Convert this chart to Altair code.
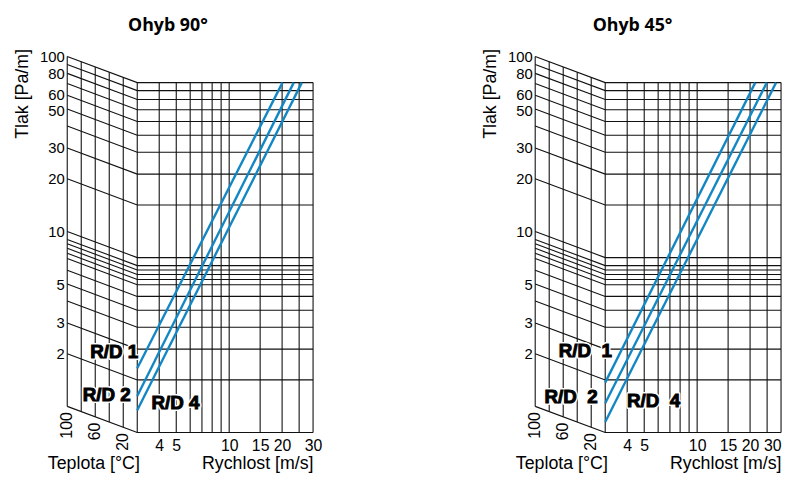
import altair as alt
import pandas as pd

# ---------------- data ----------------
pressure_grid = [1, 2, 3, 4, 5, 6, 7, 7.5, 8, 8.5, 9, 10, 20, 30, 40, 50, 60, 70, 80, 90, 100]
pressure_labels = [2, 3, 5, 10, 20, 30, 50, 60, 80, 100]
velocity_grid = [3, 4, 5, 6, 7, 8, 9, 10, 15, 20, 25, 30]
velocity_labels = [4, 5, 10, 15, 20, 30]
temperature_grid = [0, 20, 40, 60, 80, 100]
temperature_labels = [100, 60, 20]

series = ["R/D 1", "R/D 2", "R/D 4"]
# Ohyb 90°: pressure at 3 m/s and velocity where the line reaches 100 Pa/m
p_at_3_90 = [2.33, 1.62, 1.34]
v_at_100_90 = [20.1, 23.3, 25.9]
# Ohyb 45°
p_at_3_45 = [1.93, 1.47, 1.15]
v_at_100_45 = [21.4, 24.9, 28.1]

# label anchor points (velocity, pressure) for the series names
label_v_90 = [2.22, 2.01, 4.95]
label_p_90 = [2.87, 1.64, 1.48]
label_v_45 = [2.31, 1.92, 5.65]
label_p_45 = [2.93, 1.60, 1.52]
label_text_90 = ["R/D 1", "R/D 2", "R/D 4"]
label_text_45 = ["R/D\u00a0\u00a01", "R/D\u00a0\u00a02", "R/D\u00a0\u00a04"]

# ---------------- nomogram geometry ----------------
V0 = 3.0                 # velocity at the start of the grid
SKEW = 26.5 / 177        # decades of pressure the skewed part drops over 100 °C
K = 10 ** SKEW
T_SPAN = 71 / 178.3      # decades of x-width taken by 0..100 °C
X_MIN = V0 * 10 ** (-T_SPAN)
Y_MAX = 100 * K
W, H = 249, 381

LINE = "#111111"
BLUE = "#1287c4"
FONT = "Liberation Sans"


def tx(t):
    return V0 * 10 ** (-T_SPAN * t / 100)


def tk(t):
    return K ** (t / 100)


xs = alt.Scale(type="log", domain=[X_MIN, 30], nice=False, zero=False)
ys = alt.Scale(type="log", domain=[1, Y_MAX], nice=False, zero=False)

axis_style = dict(domain=False, ticks=False, tickSize=0, grid=False,
                  labelOverlap=False, labelFont=FONT, labelColor="black",
                  titleFont=FONT, titleFontSize=18, titleFontWeight="normal",
                  titleColor="black")


def x_axis(flush):
    return alt.Axis(values=velocity_labels, format="d", title="Rychlost [m/s]",
                    titleAnchor="end", labelPadding=5, titlePadding=1, labelFontSize=16,
                    labelFlush=flush, **axis_style)


label_of = f"round(datum.value / {K})"
ax_y = alt.Axis(values=[p * K for p in pressure_labels],
                labelExpr=f"'' + {label_of}",
                labelOffset={"condition": [{"test": f"{label_of} == 60", "value": -1},
                                           {"test": f"{label_of} == 50", "value": 1}],
                             "value": 0},
                title="Tlak [Pa/m]", titleY=37.5, titleAlign="center", labelFlush=False,
                labelPadding=3, titlePadding=8, labelFontSize=15, **axis_style)


def panel(title, p3, v100, lv, lp, ltext, flush):
    ax_x = x_axis(flush)

    def X():
        return alt.X("x:Q", scale=xs, axis=ax_x)

    def Y():
        return alt.Y("y:Q", scale=ys, axis=ax_y)

    hl = []
    for p in pressure_grid:
        hl.append({"x": X_MIN, "y": p * K, "id": p, "o": 0})
        hl.append({"x": V0, "y": p, "id": p, "o": 1})
        hl.append({"x": 30, "y": p, "id": p, "o": 2})
    hl = pd.DataFrame(hl)

    vl = [{"x": v, "y": 1, "y2": 100} for v in velocity_grid]
    vl += [{"x": tx(t), "y": tk(t), "y2": 100 * tk(t)} for t in temperature_grid if t > 0]
    vl = pd.DataFrame(vl)

    bl = []
    for s, a, b in zip(series, p3, v100):
        bl.append({"x": V0, "y": a, "s": s, "o": 0})
        bl.append({"x": b, "y": 100, "s": s, "o": 1})
    bl = pd.DataFrame(bl)

    tl = pd.DataFrame({"x": [tx(t) for t in temperature_labels],
                       "y": [tk(t) for t in temperature_labels],
                       "t": [str(t) for t in temperature_labels]})

    ll = pd.DataFrame({"x": lv, "y": lp, "t": ltext})

    horiz = alt.Chart(hl).mark_line(color=LINE, strokeWidth=1.1).encode(
        x=X(), y=Y(), detail="id:N", order="o:Q")
    vert = alt.Chart(vl).mark_rule(color=LINE, strokeWidth=1.1).encode(
        x=X(), y=Y(), y2="y2:Q")
    blue = alt.Chart(bl).mark_line(color=BLUE, strokeWidth=2.4).encode(
        x=X(), y=Y(), detail="s:N", order="o:Q")
    temps = alt.Chart(tl).mark_text(angle=270, align="right", baseline="middle", dx=-6,
                                    font=FONT, fontSize=16, color="black").encode(
        x=X(), y=Y(), text="t:N")
    teplota = alt.Chart(pd.DataFrame({"x": [tx(62)], "t": ["Teplota [°C]"]})).mark_text(
        align="center", baseline="middle", font=FONT, fontSize=18, color="black").encode(
        x=X(), y=alt.value(H + 32), text="t:N")
    halo = alt.Chart(ll).mark_text(font=FONT, fontSize=19, fontWeight="bold", stroke="white",
                                   strokeWidth=4, strokeJoin="round", color="white",
                                   align="center", baseline="middle").encode(
        x=X(), y=Y(), text="t:N")
    labels = alt.Chart(ll).mark_text(font=FONT, fontSize=19, fontWeight="bold", color="black",
                                     stroke="black", strokeWidth=1.0,
                                     align="center", baseline="middle").encode(
        x=X(), y=Y(), text="t:N")
    return alt.layer(horiz, vert, blue, temps, teplota, halo, labels).properties(
        width=W, height=H,
        title=alt.TitleParams(title, anchor="middle", frame="bounds", font="Open Sans",
                              fontSize=18, fontWeight="bold", color="black", offset=14),
    )


left = panel("Ohyb 90°", p_at_3_90, v_at_100_90, label_v_90, label_p_90, label_text_90, False)
right = panel("Ohyb 45°", p_at_3_45, v_at_100_45, label_v_45, label_p_45, label_text_45, True)

chart = alt.hconcat(left, right, spacing=161).properties(
    padding={"left": 5, "top": 5, "right": 0, "bottom": 5}
).configure(
    background="white"
).configure_view(stroke="transparent", strokeWidth=0)

chart.save("out.html", embed_options={"renderer": "svg", "actions": False})
